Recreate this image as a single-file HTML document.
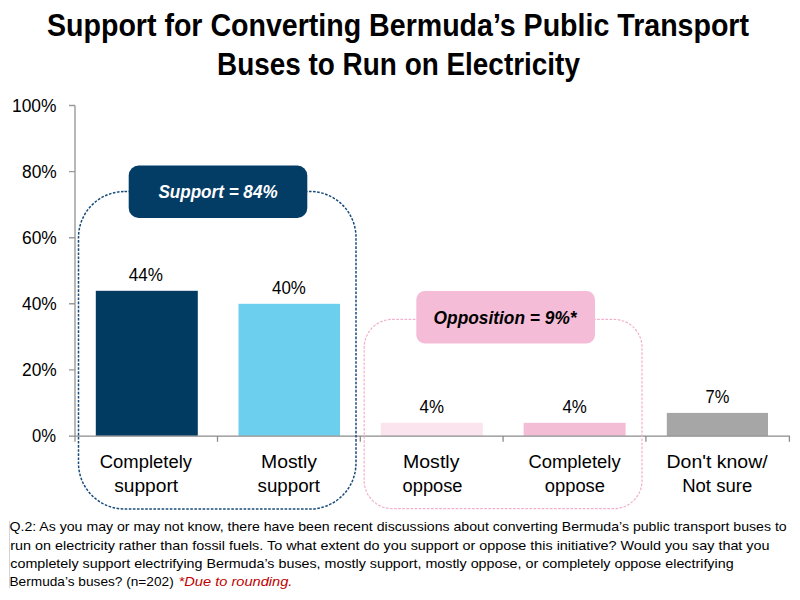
<!DOCTYPE html>
<html><head><meta charset="utf-8">
<style>
html,body{margin:0;padding:0;background:#fff;width:800px;height:600px;overflow:hidden}
svg{display:block}
text{font-family:"Liberation Sans",sans-serif}
</style></head>
<body>
<svg width="800" height="600" viewBox="0 0 800 600">
<rect width="800" height="600" fill="#fff"/>
<g stroke="#9a9a9a" stroke-width="1.4" fill="none">
<path d="M75 105.5V441.8"/>
<path d="M69 105.5H75M69 171.6H75M69 237.7H75M69 303.8H75M69 369.9H75"/>
</g>
<rect x="95.8" y="290.8" width="102" height="145" fill="#023b62"/>
<rect x="238.5" y="303.8" width="101.5" height="132" fill="#6dcfee"/>
<rect x="380.8" y="422.8" width="102" height="13" fill="#fbe4ee"/>
<rect x="523.6" y="422.8" width="102" height="13" fill="#f4bdd6"/>
<rect x="666.8" y="412.9" width="101.2" height="23" fill="#a6a6a6"/>
<g stroke="#8c8c8c" stroke-width="1.3" fill="none">
<path d="M69 436.2H789.4V441.8M217.5 436.2V441.8M360.3 436.2V441.8M503.1 436.2V441.8M645.9 436.2V441.8"/>
</g>
<rect x="78.5" y="191.5" width="277.5" height="317.5" rx="46" ry="46" fill="none" stroke="#184b7a" stroke-width="1.5" stroke-dasharray="2.6 1.5"/>
<rect x="128.7" y="165.5" width="178.6" height="52.5" rx="10" ry="10" fill="#033c64"/>
<rect x="364.2" y="319.4" width="277.8" height="189.2" rx="28" ry="28" fill="none" stroke="#f3aecc" stroke-width="1.2" stroke-dasharray="2.6 1.5"/>
<rect x="416.3" y="291" width="178.7" height="52.6" rx="8.5" ry="8.5" fill="#f4bcd6"/>
<rect x="9" y="521" width="1" height="67" fill="#d4d4d4"/>

<text x="47.00" y="36" font-size="31.5" font-weight="bold" fill="#000" textLength="702.00" lengthAdjust="spacingAndGlyphs">Support for Converting Bermuda’s Public Transport</text>
<text x="217.00" y="74.5" font-size="31.5" font-weight="bold" fill="#000" textLength="362.90" lengthAdjust="spacingAndGlyphs">Buses to Run on Electricity</text>
<text x="12.00" y="111.5" font-size="17.5" fill="#000" textLength="44.50" lengthAdjust="spacingAndGlyphs">100%</text>
<text x="22.00" y="177.6" font-size="17.5" fill="#000" textLength="34.80" lengthAdjust="spacingAndGlyphs">80%</text>
<text x="22.00" y="243.7" font-size="17.5" fill="#000" textLength="34.80" lengthAdjust="spacingAndGlyphs">60%</text>
<text x="22.00" y="309.8" font-size="17.5" fill="#000" textLength="34.80" lengthAdjust="spacingAndGlyphs">40%</text>
<text x="22.00" y="375.9" font-size="17.5" fill="#000" textLength="34.80" lengthAdjust="spacingAndGlyphs">20%</text>
<text x="32.00" y="442" font-size="17.5" fill="#000" textLength="24.00" lengthAdjust="spacingAndGlyphs">0%</text>
<text x="128.80" y="281" font-size="18" fill="#000" textLength="34.20" lengthAdjust="spacingAndGlyphs">44%</text>
<text x="272.00" y="293.6" font-size="18" fill="#000" textLength="33.80" lengthAdjust="spacingAndGlyphs">40%</text>
<text x="419.60" y="412.5" font-size="18" fill="#000" textLength="24.40" lengthAdjust="spacingAndGlyphs">4%</text>
<text x="562.40" y="412.5" font-size="18" fill="#000" textLength="24.40" lengthAdjust="spacingAndGlyphs">4%</text>
<text x="705.60" y="402.5" font-size="18" fill="#000" textLength="23.80" lengthAdjust="spacingAndGlyphs">7%</text>
<text x="99.80" y="467.5" font-size="17.5" fill="#000" textLength="92.20" lengthAdjust="spacingAndGlyphs">Completely</text>
<text x="114.20" y="491.5" font-size="17.5" fill="#000" textLength="64.00" lengthAdjust="spacingAndGlyphs">support</text>
<text x="261.00" y="467.5" font-size="17.5" fill="#000" textLength="56.00" lengthAdjust="spacingAndGlyphs">Mostly</text>
<text x="257.60" y="491.5" font-size="17.5" fill="#000" textLength="62.40" lengthAdjust="spacingAndGlyphs">support</text>
<text x="403.00" y="467.5" font-size="17.5" fill="#000" textLength="56.40" lengthAdjust="spacingAndGlyphs">Mostly</text>
<text x="402.60" y="491.5" font-size="17.5" fill="#000" textLength="59.90" lengthAdjust="spacingAndGlyphs">oppose</text>
<text x="528.50" y="467.5" font-size="17.5" fill="#000" textLength="92.10" lengthAdjust="spacingAndGlyphs">Completely</text>
<text x="544.80" y="491.5" font-size="17.5" fill="#000" textLength="60.20" lengthAdjust="spacingAndGlyphs">oppose</text>
<text x="666.50" y="467.5" font-size="17.5" fill="#000" textLength="101.10" lengthAdjust="spacingAndGlyphs">Don't know/</text>
<text x="682.20" y="491.5" font-size="17.5" fill="#000" textLength="70.00" lengthAdjust="spacingAndGlyphs">Not sure</text>
<text x="158.40" y="197.6" font-size="17.5" font-weight="bold" font-style="italic" fill="#fff" textLength="119.20" lengthAdjust="spacingAndGlyphs">Support = 84%</text>
<text x="433.60" y="324" font-size="17.5" font-weight="bold" font-style="italic" fill="#000" textLength="143.00" lengthAdjust="spacingAndGlyphs">Opposition = 9%*</text>
<text x="9.50" y="530.7" font-size="13" fill="#000" textLength="777.20" lengthAdjust="spacingAndGlyphs">Q.2: As you may or may not know, there have been recent discussions about converting Bermuda’s public transport buses to</text>
<text x="10.30" y="549.5" font-size="13" fill="#000" textLength="759.20" lengthAdjust="spacingAndGlyphs">run on electricity rather than fossil fuels. To what extent do you support or oppose this initiative? Would you say that you</text>
<text x="10.30" y="567.7" font-size="13" fill="#000" textLength="723.30" lengthAdjust="spacingAndGlyphs">completely support electrifying Bermuda’s buses, mostly support, mostly oppose, or completely oppose electrifying</text>
<text x="9.50" y="586.2" font-size="13" fill="#000" textLength="164.20" lengthAdjust="spacingAndGlyphs">Bermuda’s buses? (n=202)</text>
<text x="178.60" y="586.2" font-size="13" font-style="italic" fill="#c00000" textLength="113.80" lengthAdjust="spacingAndGlyphs">*Due to rounding.</text>
</svg>
</body></html>
